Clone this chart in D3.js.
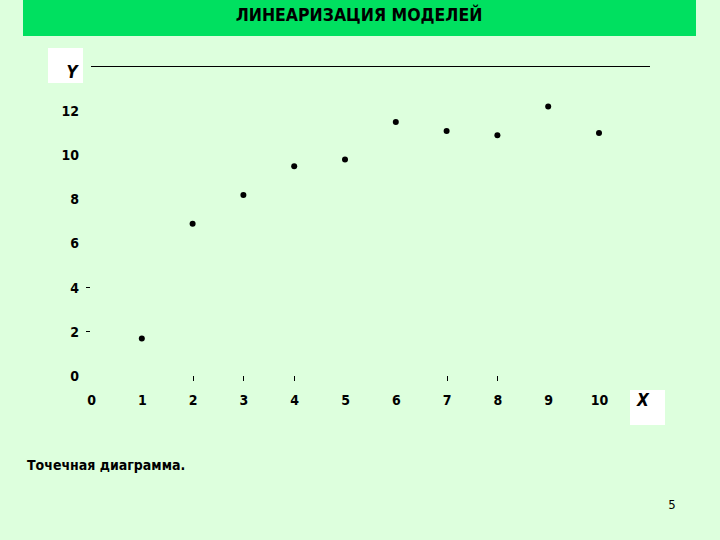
<!DOCTYPE html>
<html>
<head>
<meta charset="utf-8">
<script src="https://cdn.jsdelivr.net/npm/d3@7"></script>
<style>
  body { margin: 0; background: #ddffdd; }
  text { font-family: "DejaVu Sans Condensed", "Liberation Sans", Arial, sans-serif; }
</style>
</head>
<body>
<svg id="chart"></svg>
<script>
const xValues = [1, 2, 3, 4, 5, 6, 7, 8, 9, 10];
const yValues = [1.7, 6.9, 8.2, 9.5, 9.8, 11.5, 11.1, 10.9, 12.2, 11.0];
const xTickLabels = [0, 1, 2, 3, 4, 5, 6, 7, 8, 9, 10];
const yTickLabels = [0, 2, 4, 6, 8, 10, 12];
const xTickMarks = [2, 3, 4, 7, 8];
const yTickMarks = [2, 4];

const narrow = '"DejaVu Sans Condensed", "Liberation Sans", Arial, sans-serif';
const width = 720, height = 540;
const svg = d3.select('#chart').attr('width', width).attr('height', height);

svg.append('rect').attr('width', width).attr('height', height).attr('fill', '#ddffdd');

// title banner
svg.append('rect')
  .attr('x', 23).attr('y', 0).attr('width', 673).attr('height', 36)
  .attr('fill', '#00e060');
svg.append('text')
  .attr('x', 359).attr('y', 21)
  .attr('text-anchor', 'middle')
  .style('font-size', '17.5px').style('font-weight', 'bold')
  .text('ЛИНЕАРИЗАЦИЯ МОДЕЛЕЙ');

const x = d3.scaleLinear().domain([0, 10]).range([91, 599]);
const y = d3.scaleLinear().domain([0, 12]).range([376, 111]);

// y axis: labels only
svg.append('g')
  .attr('transform', 'translate(79, 0)')
  .call(d3.axisLeft(y).tickValues(yTickLabels).tickSize(0).tickPadding(0))
  .call(g => g.select('.domain').remove())
  .call(g => g.selectAll('text')
    .style('font-family', narrow)
    .style('font-size', '14px').style('font-weight', 'bold').attr('fill', '#000'));

// stray y tick marks
svg.append('g').selectAll('line').data(yTickMarks).join('line')
  .attr('x1', 86).attr('x2', 90)
  .attr('y1', d => Math.round(y(d)) - 0.5).attr('y2', d => Math.round(y(d)) - 0.5)
  .attr('stroke', '#000').attr('stroke-width', 1);

// x axis: labels only
svg.append('g')
  .attr('transform', 'translate(0, 395)')
  .call(d3.axisBottom(x).tickValues(xTickLabels).tickSize(0).tickPadding(0))
  .call(g => g.select('.domain').remove())
  .call(g => g.selectAll('text')
    .style('font-family', narrow)
    .style('font-size', '14px').style('font-weight', 'bold').attr('fill', '#000'));

// stray x tick marks
svg.append('g').selectAll('line').data(xTickMarks).join('line')
  .attr('x1', d => Math.round(x(d)) + 0.5).attr('x2', d => Math.round(x(d)) + 0.5)
  .attr('y1', 376).attr('y2', 381)
  .attr('stroke', '#000').attr('stroke-width', 1);

// Y label box and line
svg.append('rect').attr('x', 48).attr('y', 48).attr('width', 35).attr('height', 35).attr('fill', '#fff');
svg.append('text').attr('x', 72).attr('y', 78).attr('text-anchor', 'middle')
  .style('font-size', '17px').style('font-weight', 'bold').style('font-style', 'italic')
  .text('Y');
svg.append('line').attr('x1', 91).attr('x2', 650).attr('y1', 66.5).attr('y2', 66.5)
  .attr('stroke', '#000').attr('stroke-width', 1);

// X label box
svg.append('rect').attr('x', 630).attr('y', 390).attr('width', 35).attr('height', 35).attr('fill', '#fff');
svg.append('text').attr('x', 643).attr('y', 406).attr('text-anchor', 'middle')
  .style('font-size', '17px').style('font-weight', 'bold').style('font-style', 'italic')
  .text('X');

// points
svg.append('g').selectAll('circle').data(xValues).join('circle')
  .attr('cx', (d, i) => x(d))
  .attr('cy', (d, i) => y(yValues[i]))
  .attr('r', 3)
  .attr('fill', '#000');

// footer
svg.append('text').attr('x', 27).attr('y', 470)
  .style('font-size', '14px').style('font-weight', 'bold')
  .text('Точечная диаграмма.');
svg.append('text').attr('x', 672).attr('y', 509).attr('text-anchor', 'middle')
  .style('font-size', '13px')
  .text('5');
</script>
</body>
</html>
